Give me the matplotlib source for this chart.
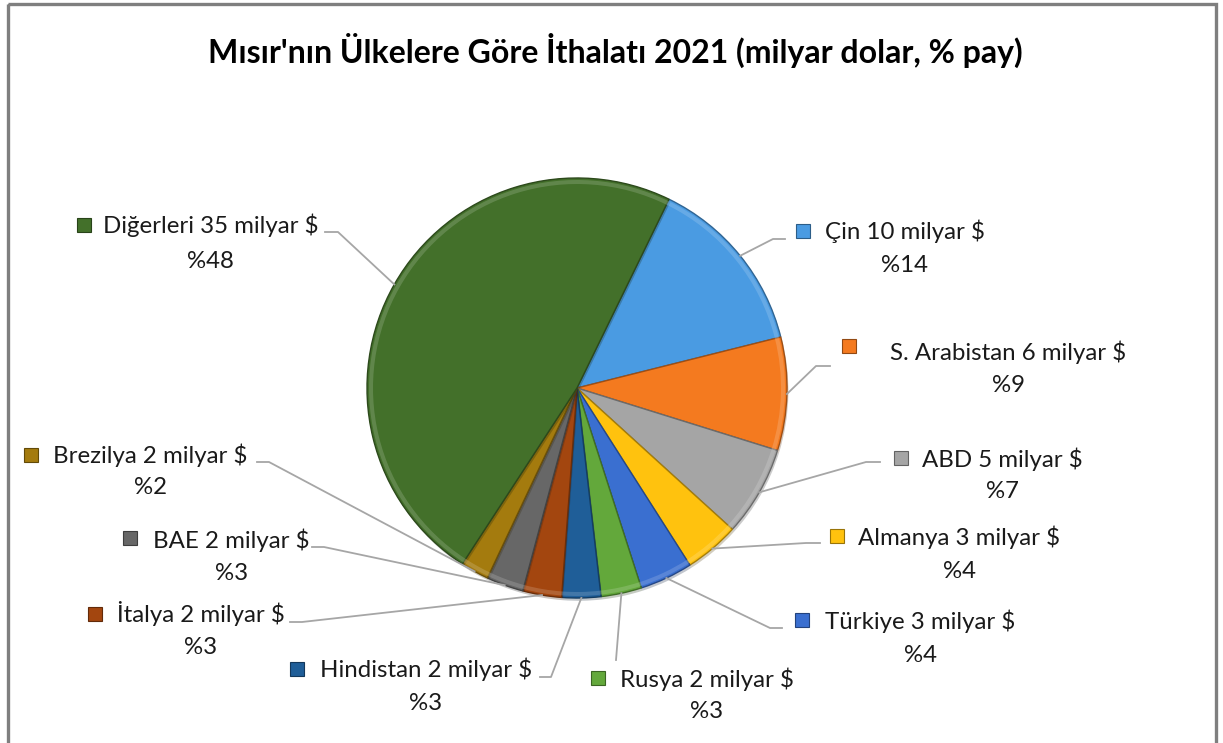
import numpy as np
import matplotlib
matplotlib.use("Agg")
import matplotlib.pyplot as plt
import matplotlib.patheffects as pe
from matplotlib.patches import Rectangle
from matplotlib.colors import to_rgb

# Veriler (milyar dolar)
ulkeler = ["Çin", "S. Arabistan", "ABD", "Almanya", "Türkiye", "Rusya",
           "Hindistan", "İtalya", "BAE", "Brezilya", "Diğerleri"]
degerler = [10.2, 6.4, 5.1, 3.1, 3.0, 2.3, 2.2, 2.2, 2.1, 1.6, 35.3]
renkler = ["#4A9BE2", "#F47A1F", "#A5A5A5", "#FFC20E", "#3A6FD0", "#63A83B",
           "#1F5E98", "#A3460F", "#676767", "#A47B0E", "#43702A"]

baslik = "Mısır'nın Ülkelere Göre İthalatı 2021 (milyar dolar, % pay)"

# Etiket yerleşimi (piksel): kutu x, kutu y, yazı x, yazı y, yüzde y, dirsek, uç
yerlesim = [
    (803, 231, 825, 231, 266, (773, 239), (785, 239)),
    (849, 346, 890, 352, 385, (816, 366), (830, 366)),
    (901, 458, 922, 459, 492, (866, 462), (880, 462)),
    (837, 536, 858, 537, 572, (806, 543), (820, 543)),
    (802, 620, 825, 621, 655, (770, 628), (782, 628)),
    (598, 678, 620, 679, 712, (616, 660), (616, 660)),
    (297, 669, 320, 669, 703, (551, 677), (540, 677)),
    (95, 614, 117, 614, 648, (302, 622), (290, 622)),
    (130, 538, 153, 540, 574, (324, 547), (312, 547)),
    (31, 455, 53, 455, 488, (269, 462), (257, 462)),
    (84, 225, 103, 225, 262, (338, 232), (325, 232)),
]

plt.rcParams['font.family'] = ['Lato', 'DejaVu Sans']

W, H = 1223, 743
fig = plt.figure(figsize=(W / 100, H / 100), dpi=100)
ax = fig.add_axes([0, 0, 1, 1])

merkez = (577, 388)
yaricap = 210


def koyu(c, f=0.75):
    r, g, b = to_rgb(c)
    return (r * f, g * f, b * f)


def acik(c, f=0.35):
    r, g, b = to_rgb(c)
    return (r + (1 - r) * f, g + (1 - g) * f, b + (1 - b) * f)


# y ekseni ters oldugu icin saat yonu = counterclock=True
dilimler, _ = ax.pie(degerler, colors=renkler, startangle=-64, counterclock=True,
                     center=merkez, radius=yaricap, frame=True,
                     wedgeprops=dict(linewidth=1.0))
for w, c in zip(dilimler, renkler):
    w.set_edgecolor(koyu(c, 0.65))
    w.set_path_effects([pe.SimplePatchShadow(offset=(1, -2), alpha=0.25), pe.Normal()])

# hafif kabartma etkisi: dis kenarda ince acik bant
bant, _ = ax.pie(degerler, colors=[acik(c) for c in renkler], startangle=-64,
                 counterclock=True, center=merkez, radius=yaricap - 2, frame=True,
                 wedgeprops=dict(width=4, linewidth=0, alpha=0.45))

ax.set_xlim(0, W)
ax.set_ylim(H, 0)
ax.set_aspect('equal')
ax.axis('off')

# Cerceve
ax.add_patch(Rectangle((8, 4), 1208, 760, fill=False, edgecolor="#7F7F7F",
                       linewidth=2.4, clip_on=False))

ax.text(615, 50, baslik, ha='center', va='center', fontsize=23, fontweight='bold')

toplam = sum(degerler)
fig.canvas.draw()
r = fig.canvas.get_renderer()
for i, (ad, v) in enumerate(zip(ulkeler, degerler)):
    kx, ky, tx, ty, py, dirsek, uc = yerlesim[i]
    w = dilimler[i]
    aci = np.deg2rad((w.theta1 + w.theta2) / 2)
    bas = (merkez[0] + yaricap * np.cos(aci), merkez[1] + yaricap * np.sin(aci))
    ax.plot([bas[0], dirsek[0], uc[0]], [bas[1], dirsek[1], uc[1]],
            color="#A6A6A6", lw=1.3, zorder=1)
    ax.add_patch(Rectangle((kx - 7, ky - 7), 14, 14, facecolor=renkler[i],
                           edgecolor=koyu(renkler[i], 0.6), lw=0.8))
    t = ax.text(tx, ty, f"{ad} {int(v + 0.5)} milyar $", ha='left', va='center',
                fontsize=17.3, color="#1A1A1A")
    bb = t.get_window_extent(renderer=r)
    cx = (bb.x0 + bb.x1) / 2
    ax.text(cx, py, f"%{int(100 * v / toplam + 0.5)}", ha='center', va='center',
            fontsize=17.3, color="#1A1A1A")

fig.savefig("out.png", dpi=100)
